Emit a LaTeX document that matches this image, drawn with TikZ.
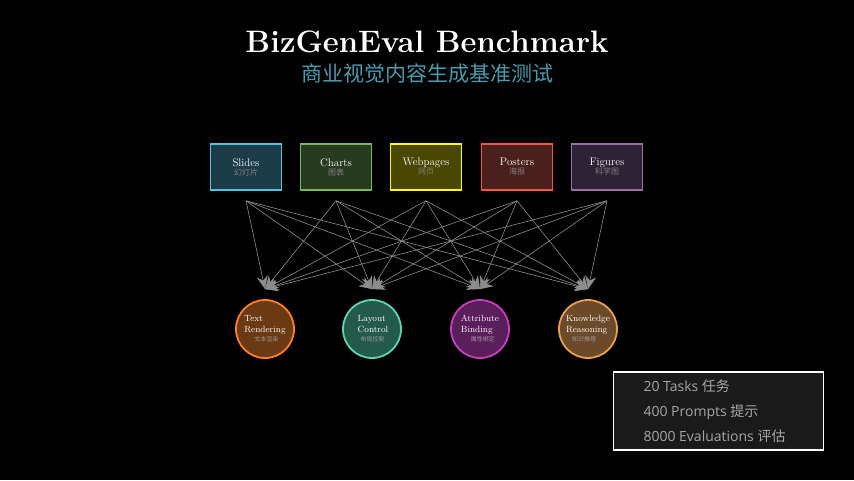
\documentclass[tikz,border=0pt]{standalone}
\usepackage{fontspec}
\newfontfamily\cjk{Noto Sans CJK SC}
\newfontfamily\lsans{Open Sans}
\usetikzlibrary{arrows.meta}
\definecolor{bS}{HTML}{4FC3E0}\definecolor{fS}{HTML}{1C3C48}
\definecolor{bC}{HTML}{7AB85A}\definecolor{fC}{HTML}{283A20}
\definecolor{bW}{HTML}{FFFF00}\definecolor{fW}{HTML}{4A4800}
\definecolor{bP}{HTML}{F05545}\definecolor{fP}{HTML}{4A201C}
\definecolor{bF}{HTML}{9A70A0}\definecolor{fF}{HTML}{2E2236}
\definecolor{bT}{HTML}{FF7F27}\definecolor{fT}{HTML}{6B3A14}
\definecolor{bL}{HTML}{5FD3B5}\definecolor{fL}{HTML}{235A4A}
\definecolor{bA}{HTML}{C840C0}\definecolor{fA}{HTML}{5A1F5A}
\definecolor{bK}{HTML}{E8A050}\definecolor{fK}{HTML}{6B4A2A}
\definecolor{sub}{HTML}{4A9BB0}
\begin{document}
\begin{tikzpicture}[x=1pt,y=-1pt,
 box/.style={draw=b#1,fill=f#1,line width=1.6pt,minimum width=71pt,minimum height=46pt,align=center,inner sep=0pt,text=white,font=\fontsize{11}{11}\selectfont},
 circ/.style={circle,draw=b#1,fill=f#1,line width=1.8pt,minimum size=58pt,align=left,inner sep=0pt,text=white,font=\fontsize{9}{10.5}\selectfont},
 conn/.style={draw=gray!90,line width=0.6pt,-{Stealth[length=13pt,width=11pt]}}]
\fill[black] (0,0) rectangle (854,480);
\node (title) at (427,42) {\fontsize{31}{33}\selectfont\bfseries\color{white}BizGenEval Benchmark};
\node (subt) at (427,74) {\cjk\fontsize{21}{23}\selectfont\color{sub}商业视觉内容生成基准测试};
\node[box=S] (s) at (246,167) {Slides\\[-2pt]{\cjk\fontsize{8}{9}\selectfont\color{gray}幻灯片}};
\node[box=C] (c) at (336,167) {Charts\\[-2pt]{\cjk\fontsize{8}{9}\selectfont\color{gray}图表}};
\node[box=W] (w) at (426,167) {Webpages\\[-2pt]{\cjk\fontsize{8}{9}\selectfont\color{gray}网页}};
\node[box=P] (p) at (517,167) {Posters\\[-2pt]{\cjk\fontsize{8}{9}\selectfont\color{gray}海报}};
\node[box=F] (f) at (607,167) {Figures\\[-2pt]{\cjk\fontsize{8}{9}\selectfont\color{gray}科学图}};
\node[circ=T] (t) at (265,329) {Text\\Rendering\\[-1pt]\hspace*{10pt}{\cjk\fontsize{6}{7}\selectfont\color{gray!80}文本渲染}};
\node[circ=L] (l) at (372,329) {\hspace*{2pt}Layout\\\hspace*{2pt}Control\\[-1pt]\hspace*{5pt}{\cjk\fontsize{6}{7}\selectfont\color{gray!80}布局控制}};
\node[circ=A] (a) at (480,329) {Attribute\\Binding\\[-1pt]\hspace*{10pt}{\cjk\fontsize{6}{7}\selectfont\color{gray!80}属性绑定}};
\node[circ=K] (k) at (588,329) {Knowledge\\Reasoning\\[-1pt]\hspace*{6pt}{\cjk\fontsize{6}{7}\selectfont\color{gray!80}知识推理}};
\foreach \b in {s,c,w,p,f}{
  \coordinate (\b o) at ([yshift=-10pt]\b.south);
  \foreach \q in {t,l,a,k}{
    \draw[conn] (\b o) -- ([yshift=10pt]\q.north);
  }
}
\node[draw=white,line width=1.5pt,fill={rgb,255:red,26;green,26;blue,26},minimum width=210pt,minimum height=78pt] (leg) at (718.5,411) {};
\node[anchor=west,align=left,text=gray!70!white,font=\lsans\fontsize{14}{25}\selectfont] (legt) at (640,411)
 {20 Tasks {\cjk 任务}\\400 Prompts {\cjk 提示}\\8000 Evaluations {\cjk 评估}};
\end{tikzpicture}
\end{document}
